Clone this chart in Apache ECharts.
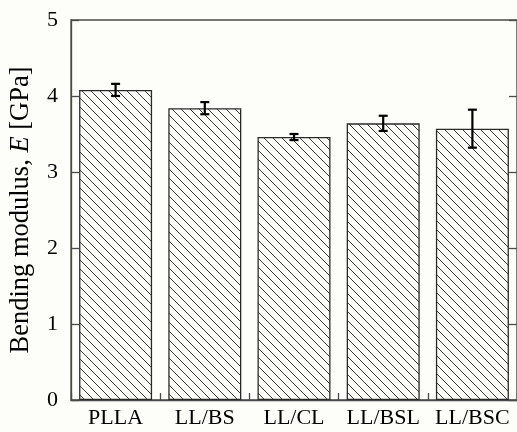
<!DOCTYPE html>
<html>
<head>
<meta charset="utf-8">
<script src="https://cdn.jsdelivr.net/npm/echarts@6/dist/echarts.min.js"></script>
<style>
  html, body { margin: 0; padding: 0; background: #fdfdfa; }
  #chart { width: 517px; height: 432px; }
</style>
</head>
<body>
<div id="chart"></div>
<script>
// Bending modulus of PLLA and its blends (mean ± standard deviation)
const categories = ['PLLA', 'LL/BS', 'LL/CL', 'LL/BSL', 'LL/BSC'];
const modulus = [4.08, 3.84, 3.46, 3.64, 3.57];
const modulusErr = [0.08, 0.08, 0.04, 0.10, 0.25];
const yTicks = [0, 1, 2, 3, 4, 5];

const SERIF = 'Liberation Serif, Times New Roman, Times, serif';
const AXIS_COLOR = '#4a4a4a';

// Diagonal hatch tile ("\" direction)
function hatchTile() {
  const s = 9;
  const c = document.createElement('canvas');
  c.width = s; c.height = s;
  const g = c.getContext('2d');
  g.fillStyle = '#fdfdfa';
  g.fillRect(0, 0, s, s);
  g.strokeStyle = '#3a3a3a';
  g.lineWidth = 1;
  g.beginPath();
  g.moveTo(-1, -1); g.lineTo(s + 1, s + 1);
  g.moveTo(-1, s - 1); g.lineTo(1, s + 1);
  g.moveTo(s - 1, -1); g.lineTo(s + 1, 1);
  g.stroke();
  return c;
}

const errData = categories.map((c, i) => [i, modulus[i], modulusErr[i]]);

const chart = echarts.init(document.getElementById('chart'), null, { renderer: 'canvas' });
chart.setOption({
  backgroundColor: '#fdfdfa',
  animation: false,
  grid: {
    left: 71, top: 20, width: 447.5, bottom: 32,
    show: true, borderColor: AXIS_COLOR, borderWidth: 1.3, backgroundColor: 'transparent'
  },
  xAxis: {
    type: 'category',
    data: categories,
    axisLine: { lineStyle: { color: AXIS_COLOR, width: 1.3 } },
    axisTick: { show: true, inside: true, length: 7, alignWithLabel: false, lineStyle: { color: AXIS_COLOR, width: 1.3 } },
    axisLabel: { color: '#000', fontFamily: SERIF, fontSize: 22, margin: 7, interval: 0 },
    splitLine: { show: false }
  },
  yAxis: [{
    type: 'value',
    min: 0, max: 5, interval: 1,
    name: '{n|Bending modulus, }{i|E}{n| [GPa]}',
    nameLocation: 'middle',
    nameRotate: 90,
    nameGap: 36,
    nameTextStyle: {
      color: '#000', fontFamily: SERIF, fontSize: 26.5,
      rich: {
        n: { color: '#000', fontFamily: SERIF, fontSize: 26.5 },
        i: { color: '#000', fontFamily: SERIF, fontSize: 26.5, fontStyle: 'italic' }
      }
    },
    axisLine: { show: true, lineStyle: { color: AXIS_COLOR, width: 1.3 } },
    axisTick: { show: true, inside: true, length: 8, lineStyle: { color: AXIS_COLOR, width: 1.3 } },
    axisLabel: {
      color: '#000', fontFamily: SERIF, fontSize: 22, margin: 13,
      formatter: v => (yTicks.indexOf(v) >= 0 ? String(v) : '')
    },
    splitLine: { show: false }
  }, {
    type: 'value',
    position: 'right',
    min: 0, max: 5, interval: 1,
    axisLine: { show: true, lineStyle: { color: AXIS_COLOR, width: 1.3 } },
    axisTick: { show: true, inside: true, length: 8, lineStyle: { color: AXIS_COLOR, width: 1.3 } },
    axisLabel: { show: false },
    splitLine: { show: false }
  }],
  series: [{
    type: 'bar',
    data: modulus,
    barWidth: 73,
    itemStyle: {
      color: { image: hatchTile(), repeat: 'repeat' },
      borderColor: '#2a2a2a',
      borderWidth: 1.3
    },
    z: 2
  }, {
    type: 'custom',
    data: errData,
    z: 5,
    renderItem: function (params, api) {
      const i = api.value(0), m = api.value(1), e = api.value(2);
      const top = api.coord([i, m + e]);
      const bot = api.coord([i, m - e]);
      const x = top[0];
      const hw = 4.5;
      const style = { stroke: '#000', lineWidth: 2.2, fill: null };
      return {
        type: 'group',
        children: [
          { type: 'line', shape: { x1: x, y1: top[1], x2: x, y2: bot[1] }, style },
          { type: 'line', shape: { x1: x - hw, y1: top[1], x2: x + hw, y2: top[1] }, style },
          { type: 'line', shape: { x1: x - hw, y1: bot[1], x2: x + hw, y2: bot[1] }, style }
        ]
      };
    }
  }]
});
</script>
</body>
</html>
